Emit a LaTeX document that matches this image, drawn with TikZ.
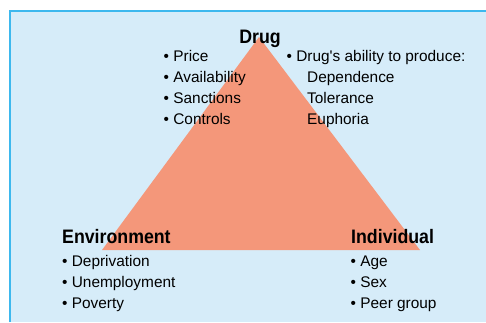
\documentclass[tikz,border=0pt]{standalone}
\usepackage{fontspec}
\setmainfont{Liberation Sans}
\newfontfamily\headfont[FakeStretch=0.91]{Liberation Sans}
\definecolor{panelbg}{HTML}{D6ECF9}
\definecolor{panelline}{HTML}{3DB8EE}
\definecolor{salmon}{HTML}{F4977A}
\begin{document}
\begin{tikzpicture}[x=1pt,y=-1pt,
  head/.style={font=\headfont\fontsize{19.5}{20}\selectfont\bfseries, inner sep=0pt, text=black},
  items/.style={font=\fontsize{15.4}{21}\selectfont, inner sep=0pt, align=left, text=black},
]
\useasboundingbox (0,0) rectangle (486,322);
\fill[panelbg] (10,11) rectangle (486,322);
\draw[panelline, line width=1.5pt] (9.75,322) -- (9.75,10.75) -- (486,10.75);
\coordinate (apex) at (259,37);
\coordinate (bl) at (102,250);
\coordinate (br) at (420,250);
\fill[salmon] (apex) -- (br) -- (bl) -- cycle;
\node[head, anchor=base] (drug) at (260,43) {Drug};
\node[items, anchor=north west] (druglist) at (163.5,46.5) {\strut• Price\\ \strut• Availability\\ \strut• Sanctions\\ \strut• Controls};
\node[items, anchor=north west] (drugab) at (286.5,46.5) {\strut• Drug\textquotesingle s ability to produce:\\ \strut\hspace{20.5pt}Dependence\\ \strut\hspace{20.5pt}Tolerance\\ \strut\hspace{20.5pt}Euphoria};
\node[head, anchor=base west] (env) at (62,243) {Environment};
\node[items, anchor=north west] (envlist) at (62,251.5) {\strut• Deprivation\\ \strut• Unemployment\\ \strut• Poverty};
\node[head, anchor=base west] (ind) at (351,243) {Individual};
\node[items, anchor=north west] (indlist) at (350.5,251.5) {\strut• Age\\ \strut• Sex\\ \strut• Peer group};
\end{tikzpicture}
\end{document}
